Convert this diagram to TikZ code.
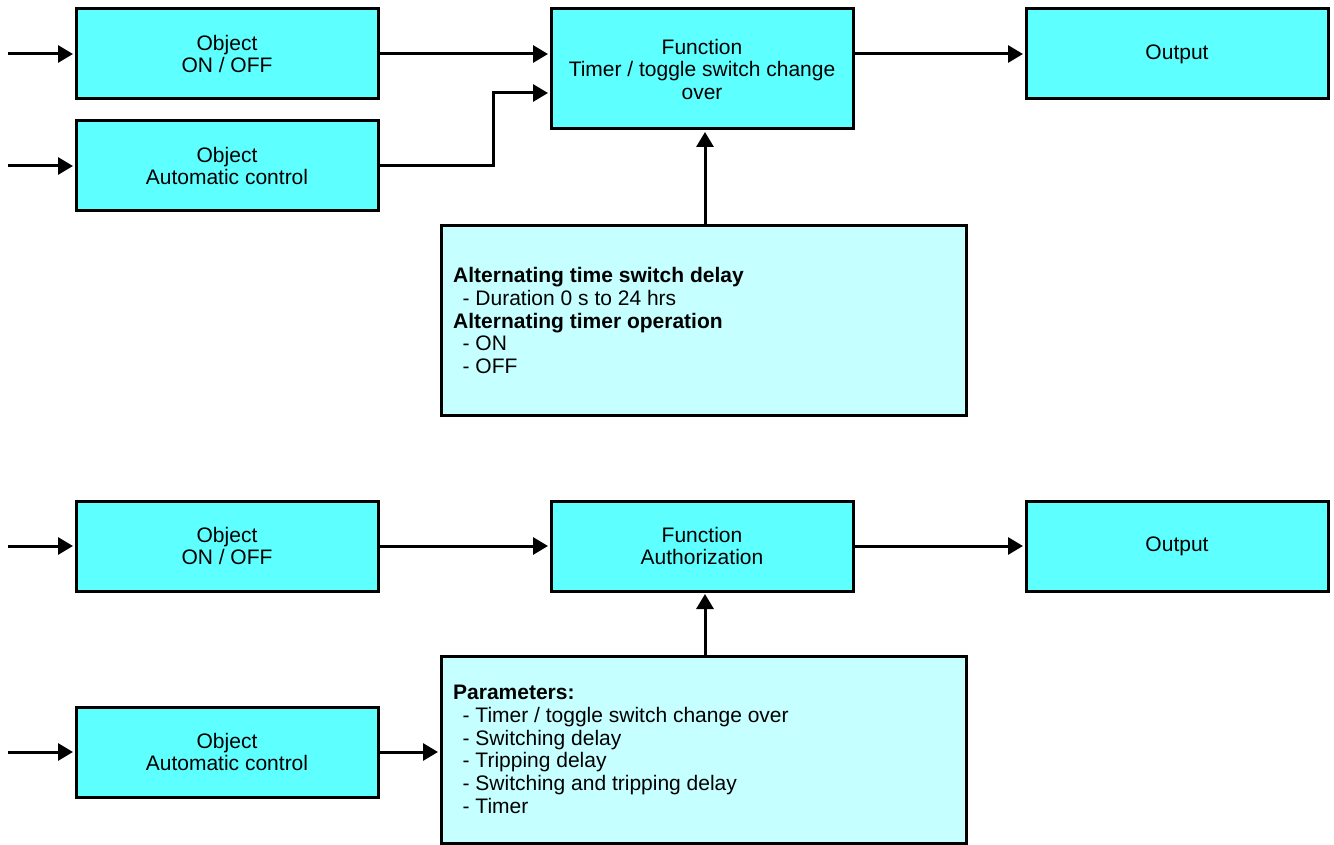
\documentclass[tikz,border=0pt]{standalone}
\usepackage{fontspec}
\setmainfont{Liberation Sans}
\usetikzlibrary{arrows.meta}
\definecolor{boxcyan}{RGB}{94,255,255}
\definecolor{paramcyan}{RGB}{197,255,255}
\tikzset{
  block/.style={draw=black, line width=3pt, fill=boxcyan, inner sep=0pt,
    align=center, font=\fontsize{21pt}{22.5pt}\selectfont,
    minimum width=302pt, minimum height=90pt},
  parambox/.style={draw=black, line width=3pt, fill=paramcyan, inner sep=0pt,
    minimum width=525pt, minimum height=189pt},
  paramtext/.style={anchor=west, align=left, inner sep=0pt,
    font=\fontsize{21pt}{22.7pt}\selectfont},
  flow/.style={line width=3pt, shorten >=1.5pt, -{Triangle[length=15pt,width=17pt]}}
}
\begin{document}
\begin{tikzpicture}[x=1pt,y=-1pt]
\useasboundingbox (0,0) rectangle (1334,845);

% upper chain: timer / toggle switch change over
\node[block] (on1) at (227,54) {Object\\ON / OFF};
\node[block] (auto1) at (227,166) {Object\\Automatic control};
\node[block, minimum height=120pt] (fn1) at (702,69) {Function\\Timer / toggle switch change\\over};
\node[block] (out1) at (1177,54) {Output};
\node[parambox] (par1) at (703.5,320.5) {};
\node[paramtext] (par1t) at (453,320.5) {\textbf{Alternating time switch delay}\\
  \hspace{0.45em}- Duration 0 s to 24 hrs\\
  \textbf{Alternating timer operation}\\
  \hspace{0.45em}- ON\\
  \hspace{0.45em}- OFF};

\coordinate (in1) at (8,54);
\coordinate (in2) at (8,166);
\coordinate (bend) at (493,93);

\draw[flow] (in1) -- (on1.west);
\draw[flow] (in2) -- (auto1.west);
\draw[flow] (on1.east) -- (on1.east -| fn1.west);
\draw[flow] (auto1.east) -| (bend) -- (bend -| fn1.west);
\draw[flow] (fn1.east |- out1.west) -- (out1.west);
\draw[flow] (par1.north -| 705,0) -- (fn1.south -| 705,0);

% lower chain: authorization
\node[block] (on2) at (227,546) {Object\\ON / OFF};
\node[block] (fn2) at (702,546) {Function\\Authorization};
\node[block] (out2) at (1177,546) {Output};
\node[block] (auto2) at (227,752) {Object\\Automatic control};
\node[parambox, minimum height=187pt] (par2) at (703.5,749.5) {};
\node[paramtext] (par2t) at (453,749.5) {\textbf{Parameters:}\\
  \hspace{0.45em}- Timer / toggle switch change over\\
  \hspace{0.45em}- Switching delay\\
  \hspace{0.45em}- Tripping delay\\
  \hspace{0.45em}- Switching and tripping delay\\
  \hspace{0.45em}- Timer};

\coordinate (in3) at (8,546);
\coordinate (in4) at (8,752);

\draw[flow] (in3) -- (on2.west);
\draw[flow] (on2.east) -- (fn2.west);
\draw[flow] (fn2.east) -- (out2.west);
\draw[flow] (in4) -- (auto2.west);
\draw[flow] (auto2.east) -- (auto2.east -| par2.west);
\draw[flow] (par2.north -| 705,0) -- (fn2.south -| 705,0);
\end{tikzpicture}
\end{document}
